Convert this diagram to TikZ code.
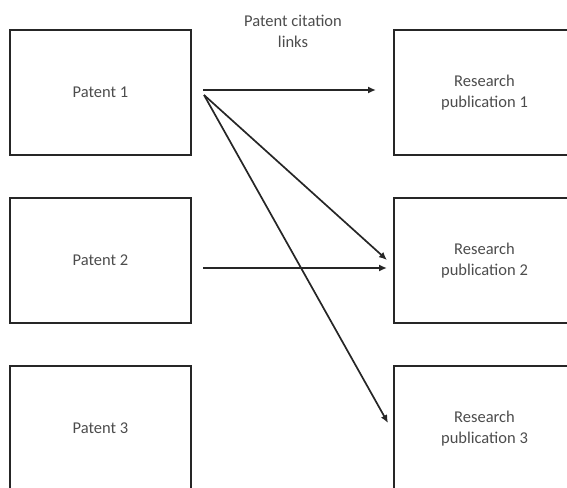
\documentclass[tikz,border=0pt]{standalone}
\usepackage{fontspec}
\setmainfont{Carlito}
\usetikzlibrary{arrows.meta,positioning}

\begin{document}
\begin{tikzpicture}[x=1pt, y=-1pt, >={Latex[length=8pt,width=7pt]},
  box/.style={draw=black!85, line width=2pt, minimum width=181pt, minimum height=125pt,
    inner sep=0pt, align=center, text=black!70, font=\fontsize{16.5}{21}\selectfont},
  link/.style={->, line width=1.7pt, draw=black!85}]

% Frame
\useasboundingbox (0,0) rectangle (567,487);
\clip (0,0) rectangle (567,487);

% Patents
\node[box] (p1) at (100.5,92.5) {Patent 1};
\node[box] (p2) at (100.5,260.5) {Patent 2};
\node[box] (p3) at (100.5,428.5) {Patent 3};

% Publications
\node[box] (r1) at (484.5,92.5) {Research\\publication 1};
\node[box] (r2) at (484.5,260.5) {Research\\publication 2};
\node[box] (r3) at (484.5,428.5) {Research\\publication 3};

% Title
\node[align=center, text=black!70, font=\fontsize{16.5}{21}\selectfont] (title) at (293,31)
  {Patent citation\\links};

% Citation links
\coordinate (s1) at ([xshift=11pt,yshift=2.5pt]p1.east);
\coordinate (s1b) at ([xshift=12pt,yshift=-2.5pt]p1.east);
\coordinate (s2) at ([xshift=11pt,yshift=-7.5pt]p2.east);

\draw[link] (s1) -- ([xshift=-17pt,yshift=2.5pt]r1.west);
\draw[link] (s1b) -- ([xshift=-6pt,yshift=0.5pt]r2.west);
\draw[link] (s1b) -- ([xshift=-5pt,yshift=5.5pt]r3.west);
\draw[link] (s2) -- ([xshift=-6pt,yshift=-7.5pt]r2.west);

\end{tikzpicture}
\end{document}
